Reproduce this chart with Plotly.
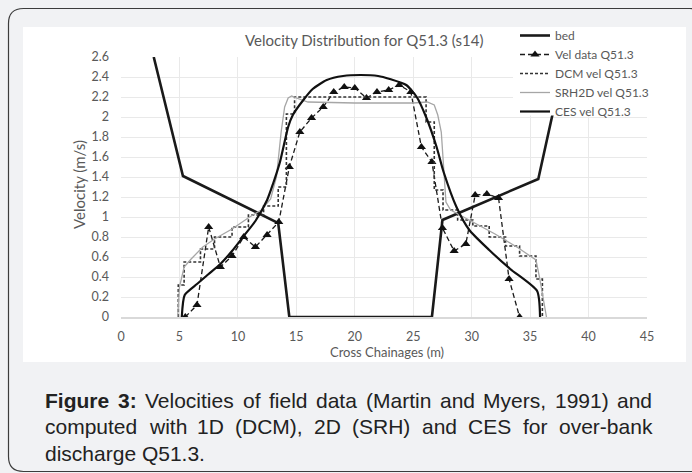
import plotly.graph_objects as go

# ---------------- data ----------------
bed_x = [2.8, 5.3, 13.45, 14.4, 26.6, 27.5, 35.7, 38.0]
bed_y = [2.6, 1.41, 0.94, 0.0, 0.0, 0.97, 1.38, 2.6]

vel_x = [5.5, 6.5, 7.5, 8.5, 9.5, 10.5, 11.5, 12.5, 13.5, 14.4, 15.3, 16.3, 17.3, 18.2, 19.1,
         20.0, 21.0, 21.9, 22.9, 23.8, 24.8, 25.7, 26.6, 27.5, 28.5, 29.5, 30.3, 31.3, 32.3,
         33.2, 34.1]
vel_y = [0.0, 0.12, 0.90, 0.50, 0.61, 0.80, 0.70, 0.82, 0.95, 1.50, 1.85, 1.99, 2.10, 2.25, 2.30,
         2.29, 2.19, 2.25, 2.27, 2.32, 2.25, 1.70, 1.55, 0.89, 0.66, 0.73, 1.22, 1.23, 1.19,
         0.38, 0.0]

dcm_x = [4.9, 4.9, 5.4, 6.8, 8.0, 9.5, 10.9, 12.2, 13.45, 14.15, 14.85, 26.1, 26.8, 27.55,
         28.8, 30.1, 31.5, 32.9, 34.1, 35.5, 36.05]
dcm_y = [0.0, 0.32, 0.55, 0.68, 0.80, 0.90, 1.02, 1.11, 1.30, 2.03, 2.20, 1.95, 1.27, 1.07,
         0.97, 0.91, 0.80, 0.71, 0.61, 0.38, 0.0]

srh_x = [4.85, 5.0, 5.4, 6.0, 7.0, 8.0, 9.5, 11.0, 12.0, 12.8, 13.3, 13.7, 14.0, 14.3, 14.6,
         15.0, 16.0, 20.0, 25.0, 26.2, 26.8, 27.1, 27.4, 27.6, 27.8, 28.2, 30.0, 32.0, 34.0,
         35.5, 35.8, 36.4]
srh_y = [0.0, 0.30, 0.50, 0.58, 0.70, 0.78, 0.88, 1.00, 1.07, 1.18, 1.40, 1.85, 2.10, 2.19, 2.21,
         2.19, 2.15, 2.14, 2.14, 2.15, 2.12, 2.02, 1.85, 1.50, 1.15, 1.07, 0.96, 0.83, 0.69,
         0.57, 0.40, 0.0]

ces_x = [5.2, 5.45, 6.5, 7.5, 8.5, 9.5, 10.5, 11.5, 12.5, 13.0, 13.6, 14.3, 14.7, 15.6, 16.4,
         17.6, 19.0, 20.5, 22.0, 23.0, 24.4, 25.3, 26.1, 27.0, 27.6, 28.7, 29.8, 31.5, 33.3,
         35.6, 35.85]
ces_y = [0.0, 0.22, 0.33, 0.43, 0.53, 0.66, 0.81, 0.96, 1.17, 1.33, 1.55, 1.90, 2.02, 2.17, 2.28,
         2.37, 2.41, 2.42, 2.41, 2.38, 2.32, 2.20, 2.00, 1.70, 1.45, 1.10, 0.87, 0.67, 0.48,
         0.26, 0.0]

x_ticks = [0, 5, 10, 15, 20, 25, 30, 35, 40, 45]
y_ticks = [0, 0.2, 0.4, 0.6, 0.8, 1, 1.2, 1.4, 1.6, 1.8, 2, 2.2, 2.4, 2.6]
y_ticktext = ["0", "0.2", "0.4", "0.6", "0.8", "1", "1.2", "1.4", "1.6", "1.8", "2", "2.2", "2.4", "2.6"]

title_text = "Velocity Distribution for Q51.3 (s14)"
x_title = "Cross Chainages (m)"
y_title = "Velocity (m/s)"
caption_lines = [
    [("Figure", True), ("3:", True), ("Velocities", False), ("of", False), ("field", False),
     ("data", False), ("(Martin", False), ("and", False), ("Myers,", False), ("1991)", False),
     ("and", False)],
    [("computed", False), ("with", False), ("1D", False), ("(DCM),", False), ("2D", False),
     ("(SRH)", False), ("and", False), ("CES", False), ("for", False), ("over-bank", False)],
    [("discharge Q51.3.", False)],
]

# ---------------- layout helpers ----------------
W, H = 692, 473
L, R, T, B = 121, 647, 57, 317
PW, PH = R - L, B - T


def px(X):
    return (X - L) / PW


def py(Y):
    return (B - Y) / PH


GRAY = "#595959"
FONT = "Lato"

fig = go.Figure()
fig.add_trace(go.Scatter(x=bed_x, y=bed_y, name="bed", mode="lines",
                         line=dict(color="#1a1a1a", width=2.6)))
fig.add_trace(go.Scatter(x=vel_x, y=vel_y, name="Vel data Q51.3", mode="lines+markers",
                         line=dict(color="#1a1a1a", width=1.3, dash="5px,3px"),
                         marker=dict(symbol="triangle-up", size=8, color="#111111"),
                         cliponaxis=False))
fig.add_trace(go.Scatter(x=dcm_x, y=dcm_y, name="DCM vel Q51.3", mode="lines",
                         line=dict(color="#333333", width=1.6, dash="3px,2px", shape="hv")))
fig.add_trace(go.Scatter(x=srh_x, y=srh_y, name="SRH2D vel Q51.3", mode="lines",
                         line=dict(color="#a6a6a6", width=1.3)))
fig.add_trace(go.Scatter(x=ces_x, y=ces_y, name="CES vel Q51.3", mode="lines",
                         line=dict(color="#111111", width=2.2, shape="spline", smoothing=0.6)))

shapes = []
# white chart area
shapes.append(dict(type="rect", xref="paper", yref="paper", x0=px(23), x1=px(686),
                   y0=py(362), y1=py(27), fillcolor="white", line=dict(width=0), layer="below"))
# white legend backdrop (covers grid and bed line behind the legend)
shapes.append(dict(type="rect", xref="paper", yref="paper", x0=px(513), x1=px(686),
                   y0=py(115.5), y1=py(27), fillcolor="white", line=dict(width=0), layer="above"))
# rounded outer frame
x0, y0, x1, y1, r = 8.5, 8.5, 705, 471.5, 15


def P(X, Y):
    return f"{px(X):.5f},{py(Y):.5f}"


path = (f"M{P(x0, y0 + r)} Q{P(x0, y0)} {P(x0 + r, y0)} L{P(x1 - r, y0)} "
        f"Q{P(x1, y0)} {P(x1, y0 + r)} L{P(x1, y1 - r)} Q{P(x1, y1)} {P(x1 - r, y1)} "
        f"L{P(x0 + r, y1)} Q{P(x0, y1)} {P(x0, y1 - r)} Z")
shapes.append(dict(type="path", xref="paper", yref="paper", path=path,
                   line=dict(color="#3c3c3c", width=1.2), fillcolor="rgba(0,0,0,0)", layer="below"))

annotations = []
annotations.append(dict(text=title_text, x=px(364), y=py(40), xref="paper", yref="paper",
                        showarrow=False, xanchor="center", yanchor="middle",
                        font=dict(family=FONT, size=15, color=GRAY)))
annotations.append(dict(text=x_title, x=px(387), y=py(352), xref="paper", yref="paper",
                        showarrow=False, xanchor="center", yanchor="middle",
                        font=dict(family=FONT, size=13, color=GRAY)))
annotations.append(dict(text=y_title, x=px(79), y=py(185), xref="paper", yref="paper",
                        showarrow=False, xanchor="center", yanchor="middle", textangle=-90,
                        font=dict(family=FONT, size=15, color=GRAY)))

# caption, justified like the source (Arial metrics)
REG = {'a': 556, 'b': 556, 'c': 500, 'd': 556, 'e': 556, 'f': 278, 'g': 556, 'h': 556, 'i': 222,
       'k': 500, 'l': 222, 'm': 833, 'n': 556, 'o': 556, 'p': 556, 'r': 333, 's': 500, 't': 278,
       'u': 556, 'v': 500, 'w': 722, 'y': 500, ' ': 278, '(': 333, ')': 333, ',': 278, '-': 333,
       '.': 278, ':': 278, 'C': 722, 'D': 722, 'E': 667, 'H': 722, 'M': 833, 'Q': 778, 'R': 722,
       'S': 667, 'V': 667}
BOLD = {'F': 611, 'i': 278, 'g': 611, 'u': 611, 'r': 389, 'e': 556, ' ': 278, ':': 333}
FS = 21
CAP_L, CAP_R = 43, 650
cap_y = [400, 426.5, 453]


def wwidth(w, bold):
    tot = 0
    for ch in w:
        if ch.isdigit():
            tot += 556
        else:
            tot += (BOLD if bold else REG).get(ch, 556)
    return tot * FS / 1000.0


for li, words in enumerate(caption_lines):
    widths = [wwidth(w, b) for w, b in words]
    if li < 2 and len(words) > 1:
        gap = (CAP_R - CAP_L - sum(widths)) / (len(words) - 1)
    else:
        gap = 0.278 * FS
    xx = CAP_L
    for (w, b), wd in zip(words, widths):
        txt = f"<b>{w}</b>" if b else w
        annotations.append(dict(text=txt, x=px(xx), y=py(cap_y[li]), xref="paper", yref="paper",
                                showarrow=False, xanchor="left", yanchor="middle",
                                font=dict(family="Liberation Sans, Arial", size=FS, color="#222222")))
        xx += wd + gap

fig.update_layout(
    width=W, height=H,
    margin=dict(l=L, r=W - R, t=T, b=H - B, pad=0),
    paper_bgcolor="#f1f2f4", plot_bgcolor="white",
    shapes=shapes, annotations=annotations,
    showlegend=True,
    legend=dict(x=px(515), y=py(21), xanchor="left", yanchor="top", bgcolor="rgba(0,0,0,0)",
                font=dict(family=FONT, size=12, color=GRAY), itemwidth=30,
                tracegroupgap=0, borderwidth=0),
    xaxis=dict(range=[0, 45], tickvals=x_ticks, showgrid=True, gridcolor="#e9e9e9", gridwidth=1,
               zeroline=False, showline=True, linecolor="#d9d9d9", linewidth=1.5, ticks="",
               tickfont=dict(family=FONT, size=12.5, color=GRAY), ticklabelstandoff=7, fixedrange=True),
    yaxis=dict(range=[0, 2.6], tickvals=y_ticks, ticktext=y_ticktext, showgrid=True,
               gridcolor="#e9e9e9", gridwidth=1, zeroline=False, showline=False, ticks="",
               tickfont=dict(family=FONT, size=12.5, color=GRAY), ticklabelstandoff=11, fixedrange=True),
)

fig.write_html("out.html", config={"displayModeBar": False},
               post_script="document.body.style.margin='0';")
